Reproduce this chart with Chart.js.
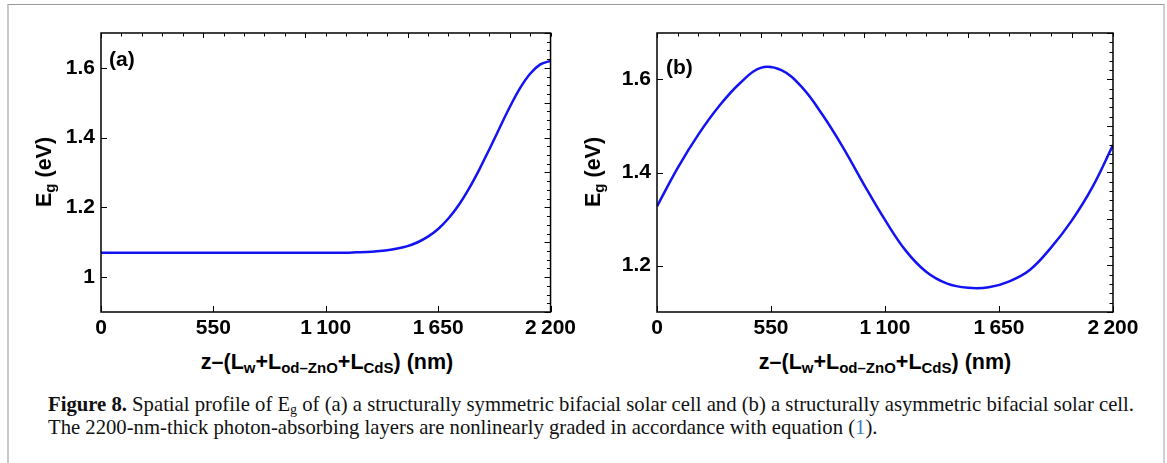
<!DOCTYPE html>
<html>
<head>
<meta charset="utf-8">
<script src="https://cdn.jsdelivr.net/npm/chart.js@4.4.1/dist/chart.umd.min.js"></script>
<style>
  body { margin: 0; width: 1167px; height: 463px; background: #fff; position: relative; overflow: hidden; font-family: "Liberation Sans", Arial, sans-serif; }
  .frame { position: absolute; left: 7px; top: 4px; width: 1154px; height: 480px; border-left: 2px solid #c8c8c8; border-right: 2px solid #d0d0d0; border-top: 1px solid #999; }
  .box { position: absolute; top: 0; height: 345px; }
  #boxA { left: 0; width: 580px; }
  #boxB { left: 580px; width: 587px; }
  .xt { position: absolute; top: 350px; font-weight: bold; font-size: 21.5px; line-height: 24px; white-space: nowrap; transform: translateX(-50%); }
  .yt { position: absolute; font-weight: bold; font-size: 21.5px; line-height: 24px; white-space: nowrap; transform: translate(-50%, -50%) rotate(-90deg); }
  .xt sub, .yt sub { font-size: 15px; vertical-align: -4px; line-height: 0; }
  .panel { position: absolute; font-weight: bold; font-size: 21px; line-height: 24px; }
  .cap { position: absolute; left: 48px; top: 393px; font-family: "Liberation Serif", serif; font-size: 20.7px; line-height: 23px; white-space: nowrap; color: #111; }
  .cap sub { font-size: 14px; vertical-align: -3px; line-height: 0; }
  .ref { color: #3d7dbf; }
</style>
</head>
<body>
<div class="frame"></div>
<div class="box" id="boxA"><canvas id="chartA"></canvas></div>
<div class="box" id="boxB"><canvas id="chartB"></canvas></div>

<div class="panel" style="left:109px;top:47px">(a)</div>
<div class="panel" style="left:666px;top:55px">(b)</div>

<div class="yt" style="left:44px;top:172px">E<sub>g</sub> (eV)</div>
<div class="yt" style="left:593px;top:172px">E<sub>g</sub> (eV)</div>
<div class="xt" style="left:327px">z–(L<sub>w</sub>+L<sub>od–ZnO</sub>+L<sub>CdS</sub>) (nm)</div>
<div class="xt" style="left:885px">z–(L<sub>w</sub>+L<sub>od–ZnO</sub>+L<sub>CdS</sub>) (nm)</div>

<div class="cap"><b>Figure 8.</b> Spatial profile of E<sub>g</sub> of (a) a structurally symmetric bifacial solar cell and (b) a structurally asymmetric bifacial solar cell.<br>The 2200-nm-thick photon-absorbing layers are nonlinearly graded in accordance with equation (<span class="ref">1</span>).</div>

<script>
// (a) symmetric cell, position in nm (denser where it rises)
const zNmA = [0, 200, 400, 600, 800, 1000, 1200, 1250, 1300, 1350, 1400, 1450, 1500, 1550,
  1600, 1650, 1700, 1750, 1800, 1850, 1900, 1950, 2000, 2050, 2100, 2150, 2200];
const egSymmetric = [1.07, 1.07, 1.07, 1.07, 1.07, 1.07, 1.07, 1.071, 1.072, 1.074, 1.077, 1.082, 1.089, 1.1,
  1.116, 1.138, 1.168, 1.206, 1.253, 1.307, 1.366, 1.427, 1.487, 1.541, 1.583, 1.61, 1.62];

// (b) asymmetric cell
const zNmB = [0, 100, 200, 300, 400, 500, 600, 700, 800, 900, 1000, 1100,
  1200, 1300, 1400, 1500, 1600, 1700, 1800, 1900, 2000, 2100, 2200];
const egAsymmetric = [1.327, 1.41, 1.482, 1.543, 1.592, 1.625, 1.62, 1.583, 1.523, 1.452, 1.373, 1.298,
  1.232, 1.186, 1.161, 1.152, 1.153, 1.166, 1.191, 1.238, 1.296, 1.368, 1.459];

const xTickValues = [0, 550, 1100, 1650, 2200];
const xTickLabels = ["0", "550", "1\u2009100", "1\u2009650", "2\u2009200"];
const yTicksA = [1, 1.2, 1.4, 1.6];
const yTicksB = [1.2, 1.4, 1.6];

const tickFont = { family: "Liberation Sans", weight: "bold", size: 21 };

// mathematica style frame: ticks pointing inwards on all four sides
const frameTicks = {
  id: "frameTicks",
  afterDatasetsDraw(chart, args, opts) {
    const { ctx, chartArea: a, scales: { x, y } } = chart;
    ctx.save();
    ctx.strokeStyle = "#000";
    ctx.lineWidth = 1;
    ctx.beginPath();
    xTickValues.forEach((v) => {
      const px = Math.round(x.getPixelForValue(v)) + 0.5;
      ctx.moveTo(px, a.bottom);
      ctx.lineTo(px, a.bottom - 6);
    });
    for (let i = 0; i <= 22; i++) {
      const px = Math.round(x.getPixelForValue(i * 100)) + 0.5;
      const len = i % 5 === 0 ? 5 : 3.5;
      ctx.moveTo(px, a.top);
      ctx.lineTo(px, a.top + len);
    }
    opts.major.forEach((v) => {
      const py = Math.round(y.getPixelForValue(v)) + 0.5;
      ctx.moveTo(a.left, py);
      ctx.lineTo(a.left + 6, py);
    });
    const n = Math.round((y.max - y.min) / opts.minor);
    for (let i = 0; i <= n; i++) {
      const v = y.min + i * opts.minor;
      const py = Math.round(y.getPixelForValue(v)) + 0.5;
      const len = i % opts.per === 0 ? 6 : 3.5;
      ctx.moveTo(a.right, py);
      ctx.lineTo(a.right - len, py);
    }
    ctx.stroke();
    ctx.lineWidth = 1.5;
    ctx.strokeRect(a.left, a.top, a.right - a.left, a.bottom - a.top);
    ctx.restore();
  },
};

function makeChart(id, xs, values, yMin, yMax, yTicks, yWidth, padRight, minor, per, smooth) {
  const ds = {
    data: xs.map((z, i) => ({ x: z, y: values[i] })),
    borderColor: "#1212f2",
    borderWidth: 2.5,
    pointRadius: 0,
    fill: false,
  };
  if (smooth === "monotone") ds.cubicInterpolationMode = "monotone";
  else ds.tension = 0.4;
  return new Chart(document.getElementById(id), {
    type: "line",
    data: { datasets: [ds] },
    options: {
      responsive: true,
      maintainAspectRatio: false,
      animation: false,
      events: [],
      layout: { padding: { left: 0, top: 33, right: padRight, bottom: 0 } },
      plugins: {
        legend: { display: false },
        tooltip: { enabled: false },
        frameTicks: { major: yTicks, minor: minor, per: per },
      },
      scales: {
        x: {
          type: "linear",
          min: 0,
          max: 2200,
          grid: { display: false, drawTicks: false },
          border: { display: false },
          afterBuildTicks: (s) => { s.ticks = xTickValues.map((v) => ({ value: v })); },
          ticks: {
            callback: (v, i) => xTickLabels[i],
            font: tickFont,
            color: "#000",
            padding: 4,
            maxRotation: 0,
            autoSkip: false,
          },
          afterFit: (s) => { s.height = 33; },
        },
        y: {
          min: yMin,
          max: yMax,
          grid: { display: false, drawTicks: false },
          border: { display: false },
          afterBuildTicks: (s) => { s.ticks = yTicks.map((v) => ({ value: v })); },
          ticks: {
            callback: (v) => String(v),
            font: tickFont,
            color: "#000",
            padding: 6,
          },
          afterFit: (s) => { s.width = yWidth; },
        },
      },
    },
    plugins: [frameTicks],
  });
}

makeChart("chartA", zNmA, egSymmetric, 0.9, 1.7, yTicksA, 101, 28, 0.025, 4, "monotone");
makeChart("chartB", zNmB, egAsymmetric, 1.1, 1.7, yTicksB, 77, 54, 0.02, 5, "bezier");
</script>
</body>
</html>
